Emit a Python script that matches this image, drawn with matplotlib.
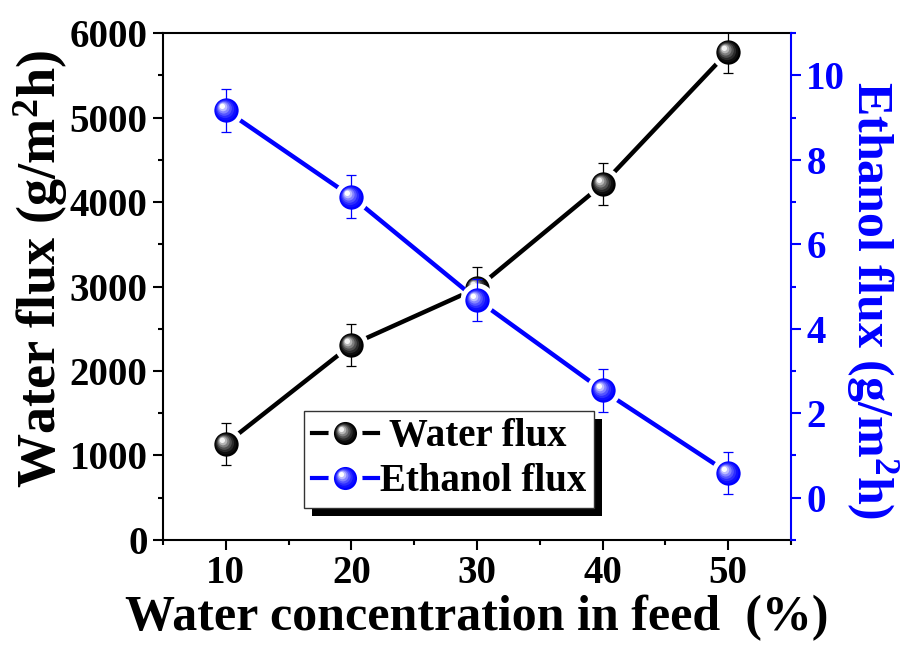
import matplotlib
matplotlib.use("Agg")
import matplotlib.pyplot as plt
import numpy as np
from matplotlib.path import Path
from matplotlib.lines import Line2D
from matplotlib.ticker import MultipleLocator
from matplotlib.colors import to_rgb
import matplotlib.patheffects as pe

# data
concentration = [10, 20, 30, 40, 50]
water_flux = [1140, 2310, 2980, 4210, 5780]
water_err = [250, 250, 250, 250, 250]
ethanol_flux = [9.17, 7.13, 4.69, 2.54, 0.59]
ethanol_err = [0.5, 0.5, 0.5, 0.5, 0.5]

plt.rcParams['font.family'] = 'Liberation Serif'
plt.rcParams['font.weight'] = 'bold'
plt.rcParams['axes.labelweight'] = 'bold'
plt.rcParams['mathtext.fontset'] = 'custom'
plt.rcParams['mathtext.rm'] = 'Liberation Serif:bold'
plt.rcParams['mathtext.bf'] = 'Liberation Serif:bold'
plt.rcParams['mathtext.it'] = 'Liberation Serif:bold'
plt.rcParams['mathtext.default'] = 'rm'

BLUE = '#0000ff'
MS = 17.5  # sphere diameter in points


def sphere_layers(base, light, n=7):
    # stack of off-centre circles that fake a shaded ball
    layers = []
    b = np.array(to_rgb(base))
    w = np.array(to_rgb(light))
    for i in range(1, n):
        t = i / (n - 1)
        r = 0.5 * (1 - 0.78 * t)
        a = 0.17 * t
        circ = Path.circle((-a, a), r)
        m = np.max(np.abs(circ.vertices))
        col = b + (w - b) * t ** 1.6
        layers.append((circ, 2 * m, tuple(col)))
    return layers


def draw_series(ax, x, y, err, color, light, z):
    ax.plot(x, y, color=color, lw=3.2, zorder=z, solid_capstyle='butt')
    ax.plot(x, y, 'o', ms=MS + 7, mfc='white', mec='none', ls='none', zorder=z + 0.1)
    ax.errorbar(x, y, yerr=err, fmt='none', ecolor=color, elinewidth=0.9,
                capsize=3.8, capthick=0.9, zorder=z + 0.2)
    handles = [Line2D([], [], color=color, lw=3),
               Line2D([], [], marker='o', ms=MS + 7, mfc='white', mec='none', ls='none')]
    ax.plot(x, y, 'o', ms=MS, mfc=color, mec='none', ls='none', zorder=z + 0.3)
    handles.append(Line2D([], [], marker='o', ms=MS * 0.95, mfc=color, mec='none', ls='none'))
    for path, f, col in sphere_layers(color, light):
        ax.plot(x, y, marker=path, ms=MS * f, mfc=col, mec='none', ls='none', zorder=z + 0.3)
        handles.append(Line2D([], [], marker=path, ms=MS * 0.95 * f, mfc=col, mec='none', ls='none'))
    return tuple(handles)


fig = plt.figure(figsize=(9.09, 6.49), dpi=100)
ax = fig.add_axes([0.1793, 0.168, 0.6909, 0.781])
ax2 = ax.twinx()

h_water = draw_series(ax, concentration, water_flux, water_err, '#000000', '#f2f2f2', 2)
h_eth = draw_series(ax2, concentration, ethanol_flux, ethanol_err, BLUE, '#ffffff', 2)

ax.set_xlim(5, 55)
ax.set_ylim(0, 6000)
ax2.set_ylim(-1, 11)

ax.xaxis.set_major_locator(MultipleLocator(10))
ax.xaxis.set_minor_locator(MultipleLocator(5))
ax.yaxis.set_major_locator(MultipleLocator(1000))
ax.yaxis.set_minor_locator(MultipleLocator(500))
ax2.yaxis.set_major_locator(MultipleLocator(2))
ax2.yaxis.set_minor_locator(MultipleLocator(1))

ax.tick_params(axis='both', which='major', direction='out', length=7, width=1.5,
               labelsize=28, pad=4)
ax.tick_params(axis='both', which='minor', direction='out', length=3.5, width=1.5)
ax2.tick_params(axis='y', which='major', direction='out', length=7, width=1.5,
                labelsize=28, pad=4, colors=BLUE)
ax2.tick_params(axis='y', which='minor', direction='out', length=3.5, width=1.5, colors=BLUE)

for s in ax.spines.values():
    s.set_linewidth(1.5)
ax.spines['right'].set_visible(False)
for name in ['left', 'top', 'bottom']:
    ax2.spines[name].set_visible(False)
ax2.spines['right'].set_color(BLUE)
ax2.spines['right'].set_linewidth(1.5)

ax.set_xlabel('Water concentration in feed  (%)', fontsize=36, labelpad=2)
ax.set_ylabel('Water flux (g/m$^{2}$h)', fontsize=39)
ax.yaxis.set_label_coords(-0.148, 0.535)
ax2.set_ylabel('Ethanol flux (g/m$^{2}$h)', fontsize=36, color=BLUE, rotation=270)
ax2.yaxis.set_label_coords(1.174, 0.473)

leg = ax2.legend([h_water, h_eth], [' Water flux', 'Ethanol flux'],
                 loc='lower left', bbox_to_anchor=(0.2245, 0.063), borderaxespad=0,
                 fontsize=28, handlelength=1.7, handletextpad=0.05, borderpad=0.2,
                 labelspacing=0.2, fancybox=False, framealpha=1, edgecolor='#333333')
leg.get_frame().set_linewidth(1.0)
leg.get_frame().set_path_effects([
    pe.SimplePatchShadow(offset=(6, -6), shadow_rgbFace='black', alpha=1), pe.Normal()])
leg.set_zorder(10)

fig.savefig('out.png', dpi=100)
